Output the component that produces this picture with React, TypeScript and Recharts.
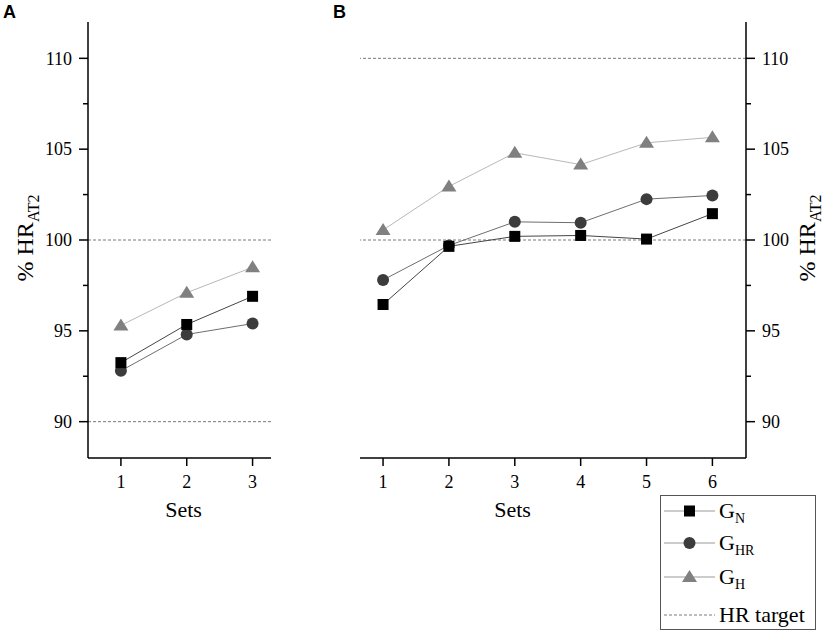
import React from "react";
import { LineChart, Line, XAxis, YAxis, ReferenceLine, Label } from "recharts";

const setsA = [1, 2, 3];
const gnA = [93.25, 95.35, 96.9];
const ghrA = [92.8, 94.8, 95.4];
const ghA = [95.3, 97.1, 98.5];

const setsB = [1, 2, 3, 4, 5, 6];
const gnB = [96.45, 99.65, 100.2, 100.25, 100.05, 101.45];
const ghrB = [97.8, 99.7, 101.0, 100.95, 102.25, 102.45];
const ghB = [100.55, 102.95, 104.8, 104.15, 105.35, 105.65];

const yTicks = [90, 92.5, 95, 97.5, 100, 102.5, 105, 107.5, 110];
const yMajor = [90, 95, 100, 105, 110];
const targetsA = [90, 100];
const targetsB = [100, 110];

const serif = "'Liberation Serif', 'Times New Roman', serif";
const sans = "'Liberation Sans', Arial, sans-serif";

const series = [
  { key: "gh", name: "G", sub: "H", stroke: "#b8b8b8", fill: "#808080", shape: "triangle" },
  { key: "ghr", name: "G", sub: "HR", stroke: "#6e6e6e", fill: "#3c3c3c", shape: "circle" },
  { key: "gn", name: "G", sub: "N", stroke: "#454545", fill: "#000000", shape: "square" },
];

const rows = (sets: number[], gn: number[], ghr: number[], gh: number[]) =>
  sets.map((s, i) => ({ set: s, gn: gn[i], ghr: ghr[i], gh: gh[i] }));

const dataA = rows(setsA, gnA, ghrA, ghA);
const dataB = rows(setsB, gnB, ghrB, ghB);

function Marker({ shape, cx, cy, fill }: any) {
  if (cx == null || cy == null) return null;
  if (shape === "square") return <rect x={cx - 5.5} y={cy - 5.5} width={11} height={11} fill={fill} />;
  if (shape === "circle") return <circle cx={cx} cy={cy} r={6} fill={fill} />;
  return <polygon points={`${cx},${cy - 7} ${cx + 7.5},${cy + 5} ${cx - 7.5},${cy + 5}`} fill={fill} />;
}

function YTick({ x, y, payload, side }: any) {
  const major = yMajor.includes(payload.value);
  const dir = side === "left" ? -1 : 1;
  const len = major ? 9 : 5;
  return (
    <g>
      <line x1={x} x2={x + dir * len} y1={y} y2={y} stroke="#000" strokeWidth={1.5} />
      {major && (
        <text
          x={x + dir * 16}
          y={y}
          dy="0.35em"
          textAnchor={side === "left" ? "end" : "start"}
          fontFamily={serif}
          fontSize={18}
          fill="#000"
        >
          {payload.value}
        </text>
      )}
    </g>
  );
}

function XTick({ x, y, payload }: any) {
  return (
    <g>
      <line x1={x} x2={x} y1={y} y2={y + 8} stroke="#000" strokeWidth={1.5} />
      <text x={x} y={y + 30} textAnchor="middle" fontFamily={serif} fontSize={18} fill="#000">
        {payload.value}
      </text>
    </g>
  );
}

function YLabel({ cx, cy }: { cx: number; cy: number }) {
  return (
    <text
      x={cx}
      y={cy}
      transform={`rotate(-90, ${cx}, ${cy})`}
      textAnchor="middle"
      fontFamily={serif}
      fontSize={24}
      fill="#000"
    >
      % HR
      <tspan fontSize={16} dy={6}>
        AT2
      </tspan>
    </text>
  );
}

function SetsLabel({ x }: { x: number }) {
  return (
    <text x={x} y={517} textAnchor="middle" fontFamily={serif} fontSize={22} fill="#000">
      Sets
    </text>
  );
}

function Panel({ data, domainX, ticksX, targets, side, width, margin, yLabelX, setsX }: any) {
  return (
    <LineChart width={width} height={632} data={data} margin={margin}>
      <XAxis
        dataKey="set"
        type="number"
        domain={domainX}
        ticks={ticksX}
        allowDataOverflow
        height={30}
        tickLine={false}
        tickSize={0}
        tickMargin={0}
        axisLine={{ stroke: "#000", strokeWidth: 1.5 }}
        tick={(p: any) => <XTick {...p} />}
      >
        <Label content={() => <SetsLabel x={setsX} />} />
      </XAxis>
      <YAxis
        orientation={side}
        type="number"
        domain={[88, 112]}
        ticks={yTicks}
        allowDataOverflow
        width={60}
        tickLine={false}
        tickSize={0}
        tickMargin={0}
        interval={0}
        axisLine={{ stroke: "#000", strokeWidth: 1.5 }}
        tick={(p: any) => <YTick {...p} side={side} />}
      >
        <Label content={() => <YLabel cx={yLabelX} cy={238} />} />
      </YAxis>
      {targets.map((t: number) => (
        <ReferenceLine key={t} y={t} stroke="#7a7a7a" strokeWidth={1} strokeDasharray="3 2" />
      ))}
      {series.map((s) => (
        <Line
          key={s.key}
          dataKey={s.key}
          type="linear"
          stroke={s.stroke}
          strokeWidth={1}
          isAnimationActive={false}
          activeDot={false}
          dot={(p: any) => <Marker key={`${s.key}-${p.index}`} shape={s.shape} cx={p.cx} cy={p.cy} fill={s.fill} />}
        />
      ))}
    </LineChart>
  );
}

function LegendBox() {
  const items = [...series].reverse();
  const rowsY = [17, 49, 83, 121];
  return (
    <svg width={158} height={137} style={{ position: "absolute", left: 659, top: 494 }}>
      <rect x={1.5} y={1.5} width={155} height={134} fill="#fff" stroke="#555" strokeWidth={1} />
      {items.map((s, i) => (
        <g key={s.key}>
          <line x1={5} x2={56} y1={rowsY[i]} y2={rowsY[i]} stroke="#9a9a9a" strokeWidth={1.2} />
          <Marker shape={s.shape} cx={30.5} cy={rowsY[i]} fill={s.fill} />
          <text x={60} y={rowsY[i] + 7} fontFamily={serif} fontSize={22} fill="#000">
            {s.name}
            <tspan fontSize={14} dy={5}>
              {s.sub}
            </tspan>
          </text>
        </g>
      ))}
      <line x1={5} x2={56} y1={rowsY[3]} y2={rowsY[3]} stroke="#7a7a7a" strokeWidth={1} strokeDasharray="3 2" />
      <text x={60} y={rowsY[3] + 7} fontFamily={serif} fontSize={22} fill="#000">
        HR target
      </text>
    </svg>
  );
}

export default function App() {
  return (
    <div style={{ position: "absolute", left: 0, top: 0, width: 823, height: 632, background: "#fff" }}>
      <div style={{ position: "absolute", left: 0, top: 0 }}>
        <Panel
          data={dataA}
          domainX={[0.5, 3.28]}
          ticksX={setsA}
          targets={targetsA}
          side="left"
          width={300}
          margin={{ top: 22, left: 28, right: 29, bottom: 144 }}
          yLabelX={33}
          setsX={183.5}
        />
      </div>
      <div style={{ position: "absolute", left: 340, top: 0 }}>
        <Panel
          data={dataB}
          domainX={[0.65, 6.51]}
          ticksX={setsB}
          targets={targetsB}
          side="right"
          width={483}
          margin={{ top: 22, left: 20, right: 17, bottom: 144 }}
          yLabelX={475}
          setsX={172.5}
        />
      </div>
      <svg width={823} height={30} style={{ position: "absolute", left: 0, top: 0, pointerEvents: "none" }}>
        <text x={3} y={18} fontFamily={sans} fontWeight="bold" fontSize={18} fill="#000">
          A
        </text>
        <text x={333} y={18} fontFamily={sans} fontWeight="bold" fontSize={18} fill="#000">
          B
        </text>
      </svg>
      <LegendBox />
    </div>
  );
}
